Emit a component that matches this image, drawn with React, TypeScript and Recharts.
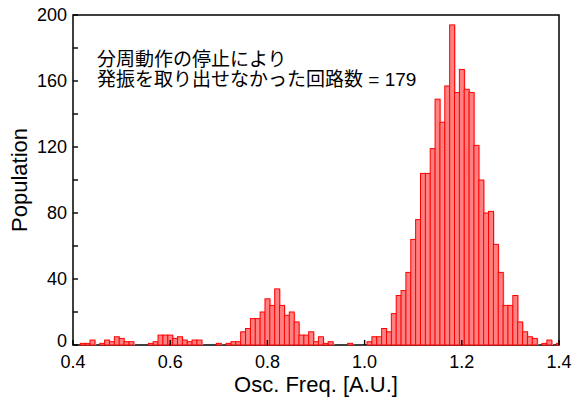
import React from "react"
import { BarChart, Bar, XAxis, YAxis, ReferenceArea } from "recharts"

// bin centres (Osc. Freq. [A.U.]), bin width 0.01
const bins = [
  0.4, 0.41, 0.42, 0.43, 0.44, 0.45, 0.46, 0.47, 0.48, 0.49,
  0.5, 0.51, 0.52, 0.53, 0.54, 0.55, 0.56, 0.57, 0.58, 0.59,
  0.6, 0.61, 0.62, 0.63, 0.64, 0.65, 0.66, 0.67, 0.68, 0.69,
  0.7, 0.71, 0.72, 0.73, 0.74, 0.75, 0.76, 0.77, 0.78, 0.79,
  0.8, 0.81, 0.82, 0.83, 0.84, 0.85, 0.86, 0.87, 0.88, 0.89,
  0.9, 0.91, 0.92, 0.93, 0.94, 0.95, 0.96, 0.97, 0.98, 0.99,
  1.0, 1.01, 1.02, 1.03, 1.04, 1.05, 1.06, 1.07, 1.08, 1.09,
  1.1, 1.11, 1.12, 1.13, 1.14, 1.15, 1.16, 1.17, 1.18, 1.19,
  1.2, 1.21, 1.22, 1.23, 1.24, 1.25, 1.26, 1.27, 1.28, 1.29,
  1.3, 1.31, 1.32, 1.33, 1.34, 1.35, 1.36, 1.37, 1.38, 1.39,
  1.4,
]

// population in each bin
const counts = [
  0, 0, 1, 1, 3, 0, 1, 3, 2, 5,
  4, 2, 2, 0, 0, 0, 1, 2, 6, 6,
  6, 4, 5, 3, 2, 3, 3, 0, 0, 0,
  1, 0, 1, 2, 2, 8, 10, 16, 16, 20,
  28, 24, 34, 24, 18, 20, 14, 6, 6, 8,
  2, 5, 1, 2, 0, 0, 0, 1, 0, 0,
  0, 2, 5, 5, 10, 8, 19, 30, 33, 44,
  64, 76, 104, 104, 119, 149, 135, 157, 194, 153,
  167, 155, 153, 121, 100, 80, 81, 61, 44, 24,
  24, 30, 14, 8, 5, 4, 0, 1, 3, 0,
  1,
]

const xTicks = [0.4, 0.6, 0.8, 1.0, 1.2, 1.4]
const yTicks = [0, 20, 40, 60, 80, 100, 120, 140, 160, 180, 200]

const data = bins.map((f, i) => ({ freq: f, count: counts[i] }))

const FONT = "'Liberation Sans', Arial, Helvetica, sans-serif"

const HistBar = (p: any) => {
  const { x, y, width, height } = p
  if (!height || height <= 0) return null
  return (
    <g>
      <rect x={x + 1.2} y={y + 1} width={width} height={height - 1} fill="#ffc6c6" />
      <rect x={x} y={y} width={width} height={height} fill="#ff8080" stroke="#ff0000" strokeWidth={1} />
    </g>
  )
}

// tick functions draw the short inward marks; the frame is a ReferenceArea over the full domain
const BottomTick = ({ x, y, payload }: any) => (
  <g>
    <line x1={x} x2={x} y1={y} y2={y - 5} stroke="#000" strokeWidth={1.4} />
    <text x={x} y={y + 23} textAnchor="middle" fontSize={18} fontFamily={FONT} fill="#000">
      {payload.value.toFixed(1)}
    </text>
  </g>
)

const TopTick = ({ x, y }: any) => <line x1={x} x2={x} y1={y} y2={y + 5} stroke="#000" strokeWidth={1.4} />

const LeftTick = ({ x, y, payload }: any) => (
  <g>
    <line x1={x} x2={x + 5} y1={y} y2={y} stroke="#000" strokeWidth={1.4} />
    {payload.value % 40 === 0 && (
      <text
        x={x - 6}
        y={payload.value === 0 ? y + 1.5 : y + 6.4}
        textAnchor="end"
        fontSize={18}
        fontFamily={FONT}
        fill="#000"
      >
        {payload.value}
      </text>
    )}
  </g>
)

const RightTick = ({ x, y }: any) => <line x1={x} x2={x - 5} y1={y} y2={y} stroke="#000" strokeWidth={1.4} />

export default function App() {
  return (
    <div style={{ position: "absolute", left: 0, top: 0, width: 575, height: 398, background: "#fff" }}>
      <BarChart
        width={575}
        height={398}
        data={data}
        margin={{ top: 15, right: 16, bottom: 0, left: 0 }}
        barCategoryGap={0}
        barGap={0}
      >
        <XAxis
          dataKey="freq"
          type="number"
          domain={[0.4, 1.4]}
          ticks={xTicks}
          interval={0}
          allowDataOverflow
          height={53}
          tickSize={0}
          tickMargin={0}
          tickLine={false}
          axisLine={false}
          tick={BottomTick}
        />
        <XAxis
          xAxisId="top"
          orientation="top"
          type="number"
          domain={[0.4, 1.4]}
          ticks={xTicks}
          interval={0}
          allowDataOverflow
          height={0}
          tickSize={0}
          tickMargin={0}
          tickLine={false}
          axisLine={false}
          tick={TopTick}
        />
        <YAxis
          type="number"
          domain={[0, 200]}
          ticks={yTicks}
          interval={0}
          width={73}
          tickSize={0}
          tickMargin={0}
          tickLine={false}
          axisLine={false}
          tick={LeftTick}
        />
        <YAxis
          yAxisId="right"
          orientation="right"
          type="number"
          domain={[0, 200]}
          ticks={yTicks}
          interval={0}
          width={0}
          tickSize={0}
          tickMargin={0}
          tickLine={false}
          axisLine={false}
          tick={RightTick}
        />
        <Bar dataKey="count" isAnimationActive={false} shape={HistBar} />
        <ReferenceArea
          x1={0.4}
          x2={1.4}
          y1={0}
          y2={200}
          fill="none"
          fillOpacity={0}
          stroke="#000"
          strokeWidth={1.5}
          strokeOpacity={1}
          ifOverflow="visible"
        />
      </BarChart>
      <svg
        width={575}
        height={398}
        style={{ position: "absolute", left: 0, top: 0, pointerEvents: "none" }}
      >
        <text
          transform="translate(26.5,180) rotate(-90)"
          textAnchor="middle"
          fontSize={22}
          fontFamily={FONT}
          fill="#000"
        >
          Population
        </text>
        <text x={316} y={392} textAnchor="middle" fontSize={22} fontFamily={FONT} fill="#000">
          Osc. Freq. [A.U.]
        </text>
        <text x={97} y={65.5} fontSize={19} fontFamily={`${FONT}, 'Noto Sans CJK JP'`} fill="#000">
          分周動作の停止により
        </text>
        <text x={97} y={86} fontSize={19} fontFamily={`${FONT}, 'Noto Sans CJK JP'`} fill="#000">
          発振を取り出せなかった回路数 = 179
        </text>
      </svg>
    </div>
  )
}
